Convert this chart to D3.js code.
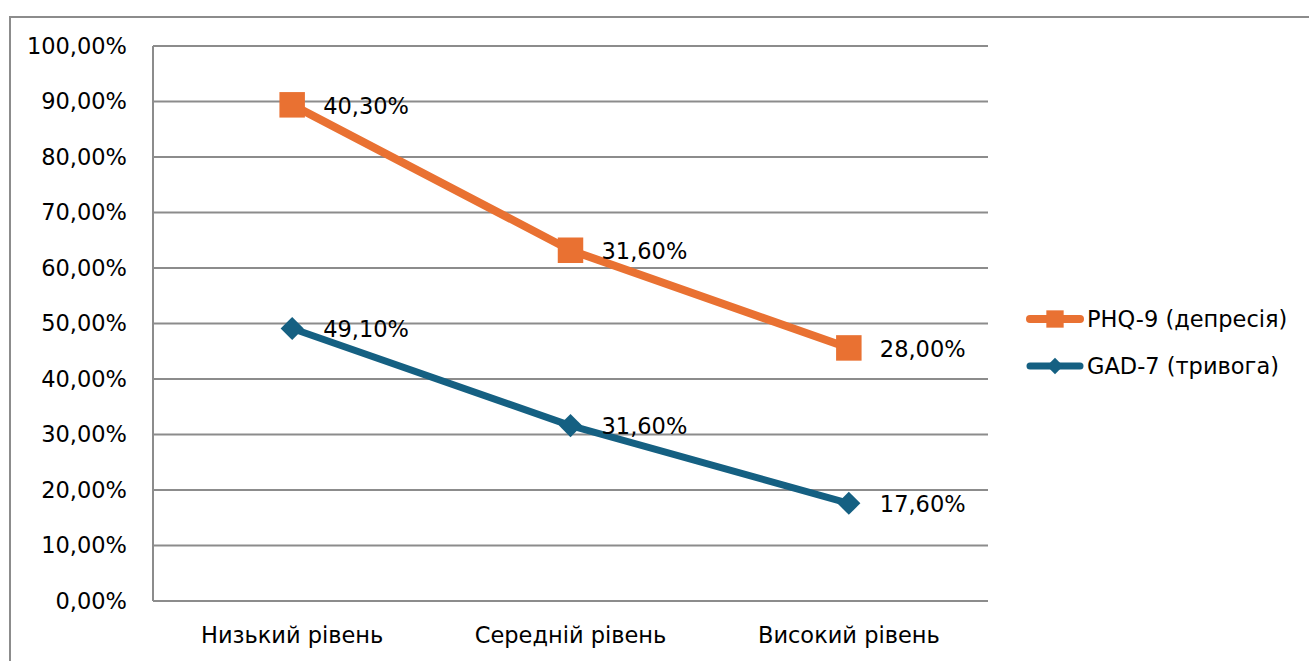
<!DOCTYPE html>
<html><head><meta charset="utf-8">
<script src="https://cdn.jsdelivr.net/npm/d3@7"></script>
<style>body{margin:0;background:#fff}svg{display:block}text{font-family:"DejaVu Sans",sans-serif;fill:#000}</style>
</head><body><svg id="c" width="1309" height="661"></svg>
<script>
const categories = ["Низький рівень", "Середній рівень", "Високий рівень"];
const gadValues = [49.1, 31.6, 17.6];
const phqValues = [40.3, 31.6, 28.0];
const seriesNames = ["GAD-7 (тривога)", "PHQ-9 (депресія)"];
const yTicks = [0,10,20,30,40,50,60,70,80,90,100];

const FONT = "DejaVu Sans, sans-serif";
const FS = 22.5;
const svg = d3.select("#c");
const W = 1309, H = 661;
const m = {l:153, t:46, r:988, b:601};
const fmt = v => v.toFixed(2).replace(".", ",") + "%";

// outer border
svg.append("rect").attr("x",10).attr("y",17).attr("width",W).attr("height",H)
  .attr("fill","none").attr("stroke","#8c8c8c").attr("stroke-width",2);

const x = d3.scaleBand().domain(categories).range([m.l, m.r]);
const y = d3.scaleLinear().domain([0,100]).range([m.b, m.t]);

const rows = categories.map((c,i)=>({cat:c, gad:gadValues[i], phq:phqValues[i]}));
const stacked = d3.stack().keys(["gad","phq"])(rows);

// gridlines
svg.append("g").selectAll("line").data(yTicks).join("line")
  .attr("x1",m.l).attr("x2",m.r).attr("y1",d=>y(d)).attr("y2",d=>y(d))
  .attr("stroke","#8c8c8c").attr("stroke-width",2);
svg.append("line").attr("x1",m.l).attr("x2",m.l).attr("y1",m.t).attr("y2",m.b)
  .attr("stroke","#8c8c8c").attr("stroke-width",2);

// y axis labels
const ya = svg.append("g").attr("transform",`translate(${m.l-26},0)`)
  .call(d3.axisLeft(y).tickValues(yTicks).tickFormat(fmt).tickSize(0).tickPadding(0));
ya.select(".domain").remove();
ya.selectAll("text").attr("font-size",FS).attr("font-family",FONT).attr("fill","#000");

// x axis labels
const xa = svg.append("g").attr("transform",`translate(0,${m.b+34})`)
  .call(d3.axisBottom(x).tickSize(0).tickPadding(0));
xa.select(".domain").remove();
xa.selectAll("text").attr("font-size",FS).attr("font-family",FONT).attr("fill","#000").attr("dy","0.35em");

const cx = c => x(c) + x.bandwidth()/2;
const cfg = {
  gad:{color:"#156082", width:7, raw:gadValues, name:seriesNames[0]},
  phq:{color:"#E97132", width:8, raw:phqValues, name:seriesNames[1]}
};
const line = d3.line().x(d=>cx(d.data.cat)).y(d=>y(d[1]));
const diamond = d3.symbol().type(d3.symbolDiamond2).size(340);
const square = d3.symbol().type(d3.symbolSquare).size(650);

stacked.forEach(s=>{
  const c = cfg[s.key];
  svg.append("path").datum(s).attr("d",line).attr("fill","none")
    .attr("stroke",c.color).attr("stroke-width",c.width).attr("stroke-linejoin","round");
  svg.append("g").selectAll("path").data(s).join("path")
    .attr("transform",d=>`translate(${cx(d.data.cat)},${y(d[1])})`)
    .attr("d", s.key==="phq" ? square() : diamond()).attr("fill",c.color);
  svg.append("g").selectAll("text").data(s).join("text")
    .attr("x",d=>cx(d.data.cat)+31).attr("y",d=>y(d[1])+1).attr("dy","0.35em")
    .attr("font-size",FS).attr("font-family",FONT).text((d,i)=>fmt(c.raw[i]));
});

// legend
const leg = [{k:"phq", y:319},{k:"gad", y:366}];
leg.forEach(l=>{
  const c = cfg[l.k];
  svg.append("line").attr("x1",1030).attr("x2",1080).attr("y1",l.y).attr("y2",l.y)
    .attr("stroke",c.color).attr("stroke-width",c.width).attr("stroke-linecap","round");
  svg.append("path").attr("transform",`translate(1055,${l.y})`)
    .attr("d", l.k==="phq" ? d3.symbol().type(d3.symbolSquare).size(300)() : d3.symbol().type(d3.symbolDiamond2).size(170)())
    .attr("fill",c.color);
  svg.append("text").attr("x",1087).attr("y",l.y).attr("dy","0.35em").attr("font-size",FS).attr("font-family",FONT).text(c.name);
});
</script></body></html>
